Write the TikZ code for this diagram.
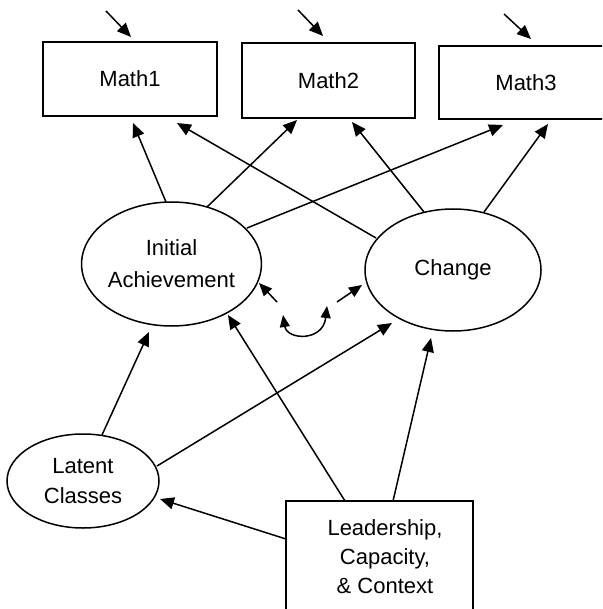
\documentclass[tikz,border=0pt]{standalone}
\usepackage{fontspec}
\setmainfont{Liberation Sans}
\usetikzlibrary{arrows.meta,shapes.geometric,calc}
\begin{document}
\begin{tikzpicture}[x=1pt,y=-1pt,
  every node/.style={font=\fontsize{22}{30}\selectfont, align=center, inner sep=0pt},
  obs/.style={draw, line width=1.5pt, rectangle},
  lat/.style={draw, line width=1.5pt, ellipse},
  arr/.style={line width=1.5pt, -{Triangle[length=14pt,width=12pt]}},
  carr/.style={line width=1.5pt, -{Triangle[length=13pt,width=11pt]}},
  corr/.style={line width=1.5pt, {Triangle[length=12pt,width=10pt]}-{Triangle[length=12pt,width=10pt]}}]
\useasboundingbox (0,0) rectangle (602,609);
\clip (0,0) rectangle (602,609);
\fill[white] (0,0) rectangle (602,609);

\node[obs, minimum width=174pt, minimum height=74pt] (m1) at (130,79) {Math1};
\node[obs, minimum width=173pt, minimum height=75pt] (m2) at (328.5,80.5) {Math2};
\node[obs, minimum width=174pt, minimum height=73pt] (m3) at (526,82.5) {Math3};

\node[lat, minimum width=174pt, minimum height=124pt, font=\fontsize{22}{32}\selectfont] (ia) at (171.5,264) {Initial\\Achievement};
\node[lat, minimum width=176pt, minimum height=122pt] (ch) at (453,270) {Change};
\node[lat, minimum width=152pt, minimum height=94pt] (lc) at (83,481) {Latent\\Classes};
\node[font=\fontsize{22}{29}\selectfont] (le) at (385,557) {Leadership,\\Capacity,\\\& Context};
\draw[line width=1.5pt] ($(le)+(-99,-56)$) rectangle ($(le)+(88,80)$);

% error terms
\coordinate (e1) at (106,11);
\coordinate (e2) at (298,10);
\coordinate (e3) at (504,14);
\draw[arr] (e1) -- ($(m1)+(1,-42)$);
\draw[arr] (e2) -- ($(m2)+(-5.5,-44.5)$);
\draw[arr] (e3) -- ($(m3)+(5,-43.5)$);

% loadings
\draw[arr] ($(ia)+(-5.5,-62)$) -- ($(m1)+(3,44)$);
\draw[arr] ($(ia)+(35.5,-57)$) -- ($(m2)+(-31.5,39.5)$);
\draw[arr] ($(ia)+(75.5,-36)$) -- ($(m3)+(-23,42.5)$);
\draw[arr] ($(ch)+(-77,-32)$) -- ($(m1)+(47,44)$);
\draw[arr] ($(ch)+(-29,-58)$) -- ($(m2)+(23.5,41.5)$);
\draw[arr] ($(ch)+(31,-58)$) -- ($(m3)+(22,41.5)$);

% structural paths
\draw[arr] ($(lc)+(19,-46)$) -- ($(ia)+(-22.5,68)$);
\draw[arr] ($(lc)+(74,-15)$) -- ($(ch)+(-61,53)$);
\draw[arr] ($(le)+(-99,-18)$) -- ($(lc)+(77,18)$);
\draw[arr] ($(le)+(-40,-56)$) -- ($(ia)+(56.5,51)$);
\draw[arr] ($(le)+(8,-56)$) -- ($(ch)+(-22,68)$);

% covariance
\coordinate (k1) at (277,302);
\coordinate (k2) at (337,302);
\coordinate (k3) at (283,315);
\coordinate (k4) at (327,306);
\draw[carr] (k1) -- ($(ia)+(87.5,19)$);
\draw[carr] (k2) -- ($(ch)+(-91,15)$);
\draw[corr] (k3) .. controls (287,340) and (323,342) .. (k4);
\end{tikzpicture}
\end{document}
